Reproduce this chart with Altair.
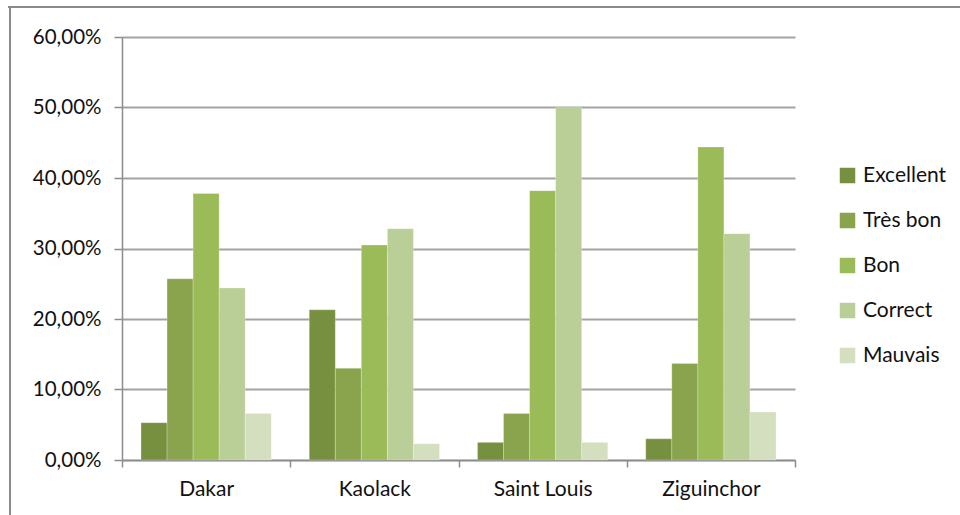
import altair as alt
import pandas as pd

# Survey results by city: share of each rating
cities = ["Dakar", "Kaolack", "Saint Louis", "Ziguinchor"]
ratings = ["Excellent", "Très bon", "Bon", "Correct", "Mauvais"]
colors = ["#77903f", "#89a44d", "#9bbb59", "#bacf97", "#d3dfbf"]

excellent = [0.053, 0.213, 0.025, 0.030]
tres_bon = [0.257, 0.130, 0.066, 0.137]
bon = [0.378, 0.305, 0.382, 0.444]
correct = [0.244, 0.328, 0.500, 0.321]
mauvais = [0.066, 0.023, 0.025, 0.068]

series = [excellent, tres_bon, bon, correct, mauvais]
rows = []
for rating, vals in zip(ratings, series):
    for city, v in zip(cities, vals):
        rows.append({"Ville": city, "Note": rating, "Part": v})
df = pd.DataFrame(rows)

FONT = "Lato"
TEXT = "#111111"
AXIS = "#8c8c8c"
GRID = "#a3a3a3"

bars = alt.Chart(df).mark_bar(stroke="white", strokeWidth=0.4, strokeOpacity=0.6).encode(
    x=alt.X(
        "Ville:N",
        sort=cities,
        title=None,
        scale=alt.Scale(paddingInner=0, paddingOuter=0),
        axis=alt.Axis(
            tickBand="extent",
            labelAngle=0,
            labelFont=FONT,
            labelFontSize=21,
            labelColor=TEXT,
            labelPadding=11,
            tickSize=7,
            tickColor=AXIS,
            tickWidth=1.5,
            domainColor=AXIS,
            domainWidth=1.5,
            grid=False,
        ),
    ),
    xOffset=alt.XOffset(
        "Note:N",
        sort=ratings,
        scale=alt.Scale(paddingInner=0, paddingOuter=0.73),
    ),
    y=alt.Y(
        "Part:Q",
        title=None,
        scale=alt.Scale(domain=[0, 0.6], nice=False),
        axis=alt.Axis(
            values=[0, 0.1, 0.2, 0.3, 0.4, 0.5, 0.6],
            labelExpr="replace(format(datum.value, '.2%'), '.', ',')",
            labelFont=FONT,
            labelFontSize=20.5,
            labelColor=TEXT,
            labelPadding=13,
            tickSize=8,
            tickColor=AXIS,
            tickWidth=1.5,
            domainColor=AXIS,
            domainWidth=1.5,
            grid=True,
            gridColor=GRID,
            gridWidth=1.8,
        ),
    ),
    color=alt.Color(
        "Note:N",
        sort=ratings,
        scale=alt.Scale(domain=ratings, range=colors),
        legend=alt.Legend(
            title=None,
            orient="none",
            legendX=715,
            legendY=128,
            symbolType="square",
            symbolSize=240,
            symbolStrokeWidth=0,
            labelFont=FONT,
            labelFontSize=21,
            labelColor=TEXT,
            labelOffset=5,
            rowPadding=23,
        ),
    ),
)

# Outer frame: top and left edges
frame_top = alt.Chart(df).mark_rule(color="#8a8a8a", strokeWidth=2).encode(
    x=alt.value(-114), x2=alt.value(838), y=alt.value(-30)
)
frame_left = alt.Chart(df).mark_rule(color="#8a8a8a", strokeWidth=2).encode(
    x=alt.value(-112), y=alt.value(-30), y2=alt.value(478)
)

chart = (
    alt.layer(bars, frame_top, frame_left)
    .properties(
        width=673,
        height=423,
        autosize=alt.AutoSizeParams(type="none"),
        padding={"left": 122, "top": 37, "right": 165, "bottom": 55},
        background="white",
    )
    .configure_view(stroke=None)
)

chart.save("out.html", embed_options={"renderer": "svg", "actions": False})
